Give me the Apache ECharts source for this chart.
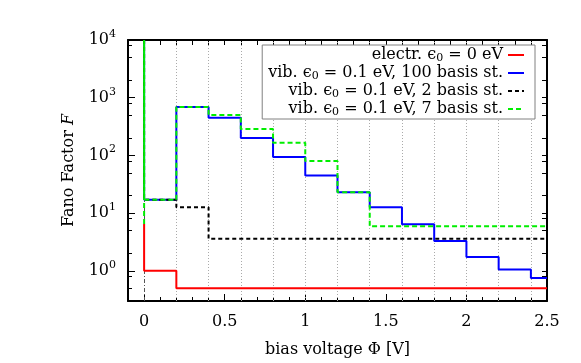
<!DOCTYPE html>
<html>
<head>
<meta charset="utf-8">
<script src="https://cdn.jsdelivr.net/npm/echarts@6/dist/echarts.min.js"></script>
<style>
  html, body { margin: 0; padding: 0; background: #fff; }
  #main { width: 581px; height: 363px; }
</style>
</head>
<body>
<div id="main"></div>
<script>
// step data (x = bias voltage, y = Fano factor)
const elecX = [0, 0, 0.2, 2.5];
const elecY = [6.5, 1.0, 0.5, 0.5];

const vib100X = [0, 0, 0.2, 0.4, 0.6, 0.8, 1.0, 1.2, 1.4, 1.6, 1.8, 2.0, 2.2, 2.4, 2.5];
const vib100Y = [10000, 17, 692, 448, 200, 94, 45, 23, 12.7, 6.4, 3.3, 1.74, 1.05, 0.75, 0.75];

const vib2X = [0, 0, 0.2, 0.4, 2.5];
const vib2Y = [10000, 17, 12.7, 3.58, 3.58];

const vib7X = [0, 0, 0, 0.2, 0.4, 0.6, 0.8, 1.0, 1.2, 1.4, 2.5];
const vib7Y = [6.5, 10000, 17, 692, 500, 287, 165, 80, 23, 5.9, 5.9];

const seriesNames = [
  'electr. ϵ0 = 0 eV',
  'vib. ϵ0 = 0.1 eV, 100 basis st.',
  'vib. ϵ0 = 0.1 eV, 2 basis st.',
  'vib. ϵ0 = 0.1 eV, 7 basis st.'
];

// ticks and grid
const xLabelValues = [0, 0.5, 1, 1.5, 2, 2.5];
const xMinorTicks = [0.1, 0.2, 0.3, 0.4, 0.6, 0.7, 0.8, 0.9, 1.1, 1.2, 1.3, 1.4, 1.6, 1.7, 1.8, 1.9, 2.1, 2.2, 2.3, 2.4];
const gridX = [0.2, 0.4, 0.6, 0.8, 1.0, 1.2, 1.4, 1.6, 1.8, 2.0, 2.2, 2.4];
const yLabelValues = [1, 10, 100, 1000, 10000];
const yMinorTicks = [0.5, 0.8, 2, 5, 8, 20, 50, 80, 200, 500, 800, 2000, 5000, 8000];

const FONT = 'DejaVu Serif';
const XMIN = -0.1, XMAX = 2.5, YMIN = 0.3, YMAX = 10000;

function zip(xs, ys) {
  return xs.map((x, i) => [x, ys[i]]);
}

var myChart = echarts.init(document.getElementById('main'), null, { renderer: 'canvas' });

const frameLine = { show: true, onZero: false, lineStyle: { color: '#000', width: 2 } };
const tickStyle = { color: '#000', width: 1 };

myChart.setOption({
  animation: false,
  grid: { left: 128, right: 34, top: 40, bottom: 60 },
  legend: {
    orient: 'vertical',
    right: 46,
    top: 45,
    align: 'right',
    itemWidth: 16,
    itemHeight: 10,
    itemGap: 0,
    padding: [1, 10, 1, 6],
    backgroundColor: '#fff',
    borderColor: '#808080',
    borderWidth: 1,
    borderRadius: 0,
    itemStyle: { opacity: 0 },
    data: seriesNames,
    formatter: name => name.replace('ϵ0', '{e|ϵ}{sub|0}'),
    textStyle: {
      fontFamily: FONT, fontSize: 16, color: '#000', lineHeight: 18,
      rich: {
        e: { fontFamily: FONT, fontSize: 16, color: '#000', lineHeight: 18 },
        sub: { fontFamily: FONT, fontSize: 11, color: '#000', lineHeight: 18, padding: [7, 0, 0, 0] }
      }
    }
  },
  xAxis: [
    {
      type: 'value', min: XMIN, max: XMAX, position: 'bottom',
      name: 'bias voltage Φ [V]', nameLocation: 'middle', nameGap: 41,
      nameTextStyle: { fontFamily: FONT, fontSize: 16, color: '#000' },
      axisLine: frameLine,
      axisTick: { inside: true, length: 7, customValues: xLabelValues, lineStyle: tickStyle },
      axisLabel: { customValues: xLabelValues, margin: 13, fontFamily: FONT, fontSize: 16, color: '#000' },
      splitLine: { show: false }
    },
    {
      type: 'value', min: XMIN, max: XMAX, position: 'bottom',
      axisLine: { show: false },
      axisTick: { inside: true, length: 4, customValues: xMinorTicks, lineStyle: tickStyle },
      axisLabel: { show: false },
      splitLine: { show: false }
    },
    {
      type: 'value', min: XMIN, max: XMAX, position: 'top',
      axisLine: frameLine,
      axisTick: { inside: true, length: 5, customValues: xLabelValues.concat(xMinorTicks), lineStyle: tickStyle },
      axisLabel: { show: false },
      splitLine: { show: false }
    }
  ],
  yAxis: [
    {
      type: 'log', logBase: 10, min: YMIN, max: YMAX, position: 'left',
      name: 'Fano Factor {i|F}', nameLocation: 'middle', nameGap: 51,
      nameTextStyle: {
        fontFamily: FONT, fontSize: 16, color: '#000',
        rich: { i: { fontFamily: FONT, fontSize: 16, fontStyle: 'italic', color: '#000' } }
      },
      axisLine: frameLine,
      axisTick: { inside: true, length: 7, customValues: yLabelValues, lineStyle: tickStyle },
      axisLabel: {
        customValues: yLabelValues,
        margin: 12,
        formatter: v => '{b|10}{s|' + Math.round(Math.log10(v)) + '}',
        rich: {
          b: { fontFamily: FONT, fontSize: 16, color: '#000' },
          s: { fontFamily: FONT, fontSize: 11, color: '#000', padding: [0, 0, 12, 0] }
        }
      },
      splitLine: { show: false }
    },
    {
      type: 'log', logBase: 10, min: YMIN, max: YMAX, position: 'left',
      axisLine: { show: false, onZero: false },
      axisTick: { inside: true, length: 4, customValues: yMinorTicks, lineStyle: tickStyle },
      axisLabel: { show: false },
      splitLine: { show: false }
    },
    {
      type: 'log', logBase: 10, min: YMIN, max: YMAX, position: 'right',
      axisLine: frameLine,
      axisTick: { inside: true, length: 5, customValues: yLabelValues.concat(yMinorTicks), lineStyle: tickStyle },
      axisLabel: { show: false },
      splitLine: { show: false }
    }
  ],
  series: [
    {
      name: seriesNames[0], type: 'line', step: 'end', symbol: 'none',
      data: zip(elecX, elecY),
      lineStyle: { color: '#ff0000', width: 2 },
      itemStyle: { color: '#ff0000' },
      markLine: {
        silent: true, symbol: 'none', z: 1,
        label: { show: false },
        lineStyle: { color: '#aaaaaa', type: [1, 2], width: 1 },
        data: gridX.map(v => ({ xAxis: v })).concat([
          { xAxis: 0, lineStyle: { color: '#555', type: [4, 2, 1, 2], width: 1 } }
        ])
      }
    },
    {
      name: seriesNames[1], type: 'line', step: 'end', symbol: 'none',
      data: zip(vib100X, vib100Y),
      lineStyle: { color: '#0000ff', width: 2 },
      itemStyle: { color: '#0000ff' }
    },
    {
      name: seriesNames[2], type: 'line', step: 'end', symbol: 'none',
      data: zip(vib2X, vib2Y),
      lineStyle: { color: '#000000', width: 2, type: [4, 3] },
      itemStyle: { color: '#000000' }
    },
    {
      name: seriesNames[3], type: 'line', step: 'end', symbol: 'none',
      data: zip(vib7X, vib7Y),
      lineStyle: { color: '#00ee00', width: 2, type: [5, 3] },
      itemStyle: { color: '#00ee00' }
    }
  ]
});
</script>
</body>
</html>
